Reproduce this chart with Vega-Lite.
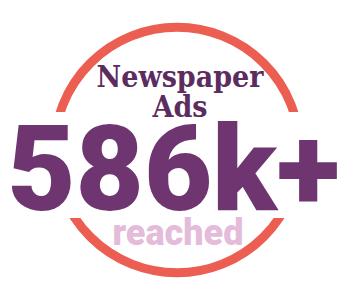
{
  "$schema": "https://vega.github.io/schema/vega-lite/v6.json",
  "width": 339,
  "height": 295,
  "padding": 0,
  "autosize": {"type": "none"},
  "background": "white",
  "config": {"view": {"stroke": null}},
  "data": {"values": [
    {"part": "title1", "text": "Newspaper"},
    {"part": "title2", "text": "Ads"},
    {"part": "value", "text": "586k+"},
    {"part": "caption", "text": "reached"}
  ]},
  "layer": [
    {
      "transform": [{"filter": "datum.part == 'value'"}],
      "mark": {"type": "point", "shape": "circle", "filled": false, "stroke": "#EC5E52", "strokeWidth": 9, "size": 60263, "opacity": 1},
      "encoding": {
        "x": {"datum": 177, "type": "quantitative", "scale": {"domain": [0, 339], "nice": false, "zero": false}, "axis": null},
        "y": {"datum": 150, "type": "quantitative", "scale": {"domain": [0, 295], "nice": false, "zero": false, "reverse": true}, "axis": null}
      }
    },
    {
      "transform": [{"filter": "datum.part == 'value'"}],
      "mark": {"type": "rect", "fill": "white"},
      "encoding": {
        "x": {"datum": 0, "type": "quantitative"},
        "x2": {"datum": 339},
        "y": {"datum": 112, "type": "quantitative"},
        "y2": {"datum": 218}
      }
    },
    {
      "transform": [{"filter": "datum.part == 'title1'"}],
      "mark": {"type": "text", "font": "DejaVu Serif Condensed, DejaVu Serif", "fontWeight": "bold", "fontSize": 30, "color": "#5D2C5F", "align": "center", "baseline": "alphabetic"},
      "encoding": {
        "x": {"datum": 180, "type": "quantitative"},
        "y": {"datum": 87, "type": "quantitative"},
        "text": {"field": "text"}
      }
    },
    {
      "transform": [{"filter": "datum.part == 'title2'"}],
      "mark": {"type": "text", "font": "DejaVu Serif Condensed, DejaVu Serif", "fontWeight": "bold", "fontSize": 30, "color": "#5D2C5F", "align": "center", "baseline": "alphabetic"},
      "encoding": {
        "x": {"datum": 180, "type": "quantitative"},
        "y": {"datum": 117, "type": "quantitative"},
        "text": {"field": "text"}
      }
    },
    {
      "transform": [{"filter": "datum.part == 'value'"}],
      "mark": {"type": "text", "font": "Roboto", "fontWeight": 900, "fontSize": 118, "color": "#6E3570", "align": "center", "baseline": "alphabetic"},
      "encoding": {
        "x": {"datum": 173.5, "type": "quantitative"},
        "y": {"datum": 210, "type": "quantitative"},
        "text": {"field": "text"}
      }
    },
    {
      "transform": [{"filter": "datum.part == 'caption'"}],
      "mark": {"type": "text", "font": "Roboto", "fontWeight": 900, "fontSize": 36, "color": "#E4BCDA", "align": "center", "baseline": "alphabetic"},
      "encoding": {
        "x": {"datum": 178, "type": "quantitative"},
        "y": {"datum": 245, "type": "quantitative"},
        "text": {"field": "text"}
      }
    }
  ]
}
